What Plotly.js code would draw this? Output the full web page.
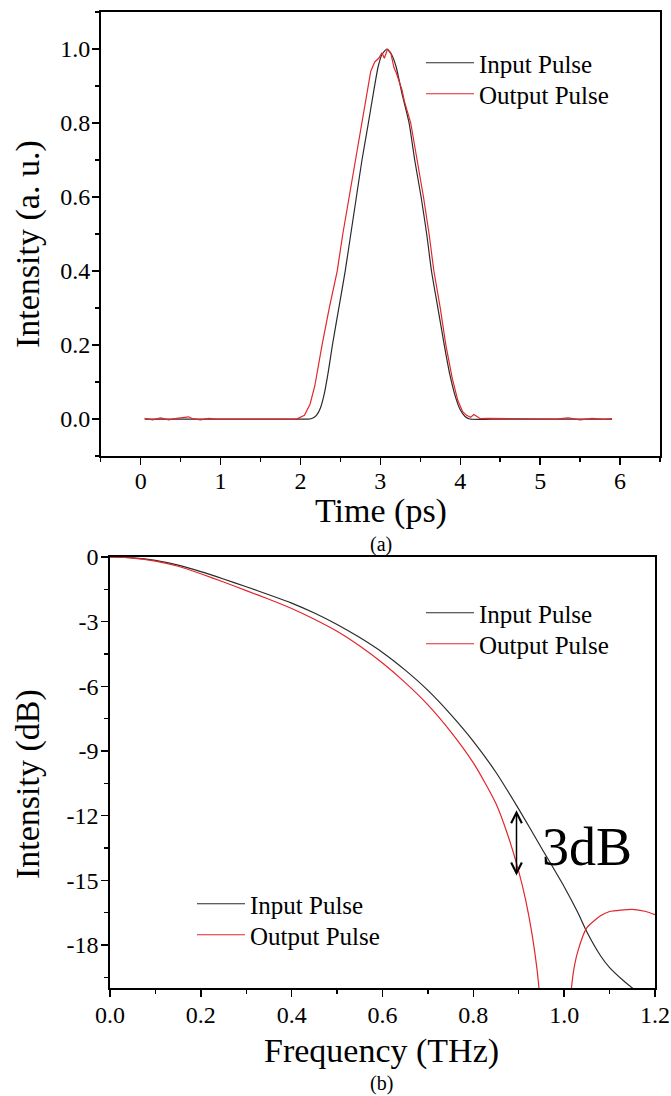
<!DOCTYPE html>
<html>
<head>
<meta charset="utf-8">
<script src="https://cdn.plot.ly/plotly-3.0.1.min.js"></script>
<style>
  html, body { margin: 0; padding: 0; background: #ffffff; }
  #chart { width: 671px; height: 1096px; }
  #chart svg text { font-family: 'Liberation Serif', 'Times New Roman', serif !important; }
</style>
</head>
<body>
<div id="chart"></div>
<script>
// ---------- (a) time domain ----------
var timeInput = [0.05, 0.5, 1.0, 1.5, 2.0, 2.1, 2.15, 2.2, 2.25, 2.3, 2.35, 2.4, 2.48, 2.56, 2.63, 2.70, 2.77, 2.85, 2.92, 2.97, 3.02, 3.08, 3.14, 3.20, 3.27, 3.36, 3.43, 3.51, 3.58, 3.64, 3.72, 3.80, 3.87, 3.94, 4.00, 4.06, 4.12, 4.5, 5.0, 5.5, 5.9];
var intInput  = [0, 0, 0, 0, 0, 0.0, 0.002, 0.01, 0.03, 0.07, 0.13, 0.2, 0.3, 0.4, 0.5, 0.6, 0.7, 0.8, 0.89, 0.95, 0.985, 1.0, 0.985, 0.95, 0.88, 0.8, 0.7, 0.6, 0.5, 0.4, 0.3, 0.2, 0.12, 0.06, 0.025, 0.007, 0.0, 0, 0, 0, 0];

var timeOutput = [0.05, 0.15, 0.25, 0.35, 0.45, 0.55, 0.6, 0.65, 0.75, 0.85, 0.95, 1.5, 1.95, 2.05, 2.12, 2.18, 2.22, 2.27, 2.36, 2.46, 2.53, 2.61, 2.69, 2.77, 2.83, 2.88, 2.93, 2.98, 3.02, 3.05, 3.09, 3.13, 3.17, 3.20, 3.27, 3.30, 3.38, 3.46, 3.54, 3.61, 3.67, 3.75, 3.82, 3.90, 3.97, 4.03, 4.08, 4.13, 4.17, 4.20, 4.25, 4.35, 5.2, 5.35, 5.5, 5.65, 5.8, 5.9];
var intOutput  = [0.002, -0.002, 0.003, -0.002, 0.002, 0.004, 0.006, 0.001, -0.002, 0.002, 0.0, 0, 0, 0.01, 0.04, 0.09, 0.14, 0.2, 0.3, 0.4, 0.5, 0.6, 0.7, 0.8, 0.88, 0.94, 0.965, 0.975, 0.99, 0.975, 1.0, 0.99, 0.95, 0.935, 0.89, 0.86, 0.8, 0.7, 0.6, 0.5, 0.4, 0.3, 0.2, 0.11, 0.05, 0.02, 0.01, 0.005, 0.012, 0.008, 0.001, 0.002, 0, 0.003, -0.002, 0.002, -0.001, 0.001];

// ---------- (b) frequency domain ----------
var freqInput = [0, 0.05, 0.1, 0.15, 0.2, 0.25, 0.3, 0.35, 0.4, 0.45, 0.5, 0.55, 0.6, 0.65, 0.7, 0.75, 0.8, 0.85, 0.9, 0.95, 1.0, 1.03, 1.05, 1.08, 1.1, 1.13, 1.15, 1.17];
var dbInput   = [0, -0.04, -0.16, -0.38, -0.68, -1.02, -1.38, -1.75, -2.14, -2.6, -3.13, -3.74, -4.43, -5.25, -6.19, -7.3, -8.55, -10.0, -11.7, -13.5, -15.3, -16.5, -17.4, -18.5, -19.05, -19.65, -20.0, -20.4];

var freqOutput = [0, 0.05, 0.1, 0.15, 0.2, 0.25, 0.3, 0.35, 0.4, 0.45, 0.5, 0.55, 0.6, 0.65, 0.7, 0.75, 0.8, 0.825, 0.85, 0.875, 0.9, 0.915, 0.93, 0.94, 0.95, 0.96, null, 1.006, 1.012, 1.02, 1.03, 1.05, 1.08, 1.1, 1.15, 1.18, 1.2];
var dbOutput   = [0, -0.05, -0.19, -0.43, -0.78, -1.16, -1.56, -1.96, -2.39, -2.89, -3.45, -4.13, -4.92, -5.83, -6.86, -8.1, -9.55, -10.45, -11.45, -12.85, -14.6, -15.9, -17.6, -19.1, -21.3, -24.0, null, -23.5, -21.0, -19.3, -18.3, -17.2, -16.65, -16.45, -16.35, -16.45, -16.6];

// tick labels
var timeTicks = [0, 1, 2, 3, 4, 5, 6];
var intTicks = [0, 0.2, 0.4, 0.6, 0.8, 1.0];
var freqTicks = [0, 0.2, 0.4, 0.6, 0.8, 1.0, 1.2];
var dbTicks = [0, -3, -6, -9, -12, -15, -18];
var dbTickText = ['0', '-3', '-6', '-9', '-12', '-15', '-18'];

// 3dB marker
var arrowFreq = 0.895;
var arrowDb = [-11.75, -14.85];
var labelFreq = 1.051;
var labelDb = -13.46;

var BLACK = '#2a2a2a';
var RED = '#e3262b';
var FONT = 'Liberation Serif';

var traces = [
  {x: timeInput, y: intInput, xaxis: 'x', yaxis: 'y', mode: 'lines', name: 'Input Pulse',
   line: {color: BLACK, width: 1.2, shape: 'spline', smoothing: 0.5}, legend: 'legend'},
  {x: timeOutput, y: intOutput, xaxis: 'x', yaxis: 'y', mode: 'lines', name: 'Output Pulse',
   line: {color: RED, width: 1.2}, legend: 'legend2'},
  {x: freqInput, y: dbInput, xaxis: 'x2', yaxis: 'y2', mode: 'lines', name: 'Input Pulse',
   line: {color: BLACK, width: 1.2, shape: 'spline', smoothing: 0.6}, legend: 'legend3'},
  {x: freqOutput, y: dbOutput, xaxis: 'x2', yaxis: 'y2', mode: 'lines', name: 'Output Pulse',
   line: {color: RED, width: 1.2, shape: 'spline', smoothing: 0.6}, legend: 'legend4'},
  {x: [null], y: [null], xaxis: 'x2', yaxis: 'y2', mode: 'lines', name: 'Input Pulse',
   line: {color: BLACK, width: 1.2}, legend: 'legend5'},
  {x: [null], y: [null], xaxis: 'x2', yaxis: 'y2', mode: 'lines', name: 'Output Pulse',
   line: {color: RED, width: 1.2}, legend: 'legend6'}
];

function axisBase(standoff) {
  return {
    showgrid: false, zeroline: false, showline: true, linecolor: '#000', linewidth: 1.6,
    mirror: true, ticks: 'outside', ticklen: 7, tickwidth: 1.4, tickcolor: '#000',
    ticklabelstandoff: standoff,
    tickfont: {family: FONT, size: 24, color: '#000'}
  };
}
function minorTicks(d) {
  return {tickmode: 'linear', tick0: 0, dtick: d, ticks: 'outside', ticklen: 4, tickwidth: 1.4, tickcolor: '#000'};
}

var xa = axisBase(-4);
Object.assign(xa, {domain: [0.1501, 0.9836], anchor: 'y', range: [-0.5, 6.5],
  tickmode: 'array', tickvals: timeTicks, minor: minorTicks(0.5)});

var ya = axisBase(-3);
Object.assign(ya, {domain: [0.5839, 0.98905], anchor: 'x', range: [-0.1, 1.1],
  tickmode: 'array', tickvals: intTicks, tickformat: '.1f', minor: minorTicks(0.1)});

var xa2 = axisBase(-2);
Object.assign(xa2, {domain: [0.1639, 0.9762], anchor: 'y2', range: [0, 1.2],
  tickmode: 'array', tickvals: freqTicks, tickformat: '.1f', minor: minorTicks(0.1)});

var ya2 = axisBase(-2);
Object.assign(ya2, {domain: [0.0985, 0.4918], anchor: 'x2', range: [-20, 0],
  tickmode: 'array', tickvals: dbTicks, ticktext: dbTickText, minor: minorTicks(1.5)});

var legendFont = {family: FONT, size: 25, color: '#000'};
function legendAt(leftPx, centerPx) {
  return {x: leftPx / 671, y: 1 - centerPx / 1096, xref: 'paper', yref: 'paper',
    xanchor: 'left', yanchor: 'middle',
    bgcolor: 'rgba(0,0,0,0)', borderwidth: 0, font: legendFont, itemwidth: 48,
    itemclick: false, itemdoubleclick: false};
}

function txt(text, xPx, yPx, size, angle) {
  return {x: xPx / 671, y: 1 - yPx / 1096, xref: 'paper', yref: 'paper', text: text,
    showarrow: false, textangle: angle || 0, xanchor: 'center', yanchor: 'middle',
    font: {family: FONT, size: size, color: '#000'}};
}

var layout = {
  width: 671, height: 1096,
  margin: {l: 0, r: 0, t: 0, b: 0},
  paper_bgcolor: '#ffffff', plot_bgcolor: '#ffffff',
  font: {family: FONT, color: '#000'},
  showlegend: true,
  xaxis: xa, yaxis: ya, xaxis2: xa2, yaxis2: ya2,
  legend: legendAt(421, 63),
  legend2: legendAt(421, 94),
  legend3: legendAt(421, 613),
  legend4: legendAt(421, 644),
  legend5: legendAt(192, 904),
  legend6: legendAt(192, 935),
  annotations: [
    {x: arrowFreq, y: arrowDb[0], ax: arrowFreq, ay: arrowDb[1], xref: 'x2', yref: 'y2', axref: 'x2', ayref: 'y2',
     text: '', showarrow: true, arrowside: 'end+start', arrowhead: 5, startarrowhead: 5,
     arrowsize: 1.4, startarrowsize: 1.4, arrowwidth: 1.5, arrowcolor: '#000'},
    {x: labelFreq, y: labelDb, xref: 'x2', yref: 'y2', text: '3dB', showarrow: false,
     font: {family: FONT, size: 54, color: '#000'}},
    txt('Time (ps)', 381, 511, 34),
    txt('Intensity (a. u.)', 28, 244, 34, -90),
    txt('Frequency (THz)', 382, 1051, 34),
    txt('Intensity (dB)', 28, 784, 34, -90),
    txt('(a)', 381, 544, 20),
    txt('(b)', 381, 1083, 20)
  ]
};

Plotly.newPlot('chart', traces, layout, {displayModeBar: false, staticPlot: true});
</script>
</body>
</html>
